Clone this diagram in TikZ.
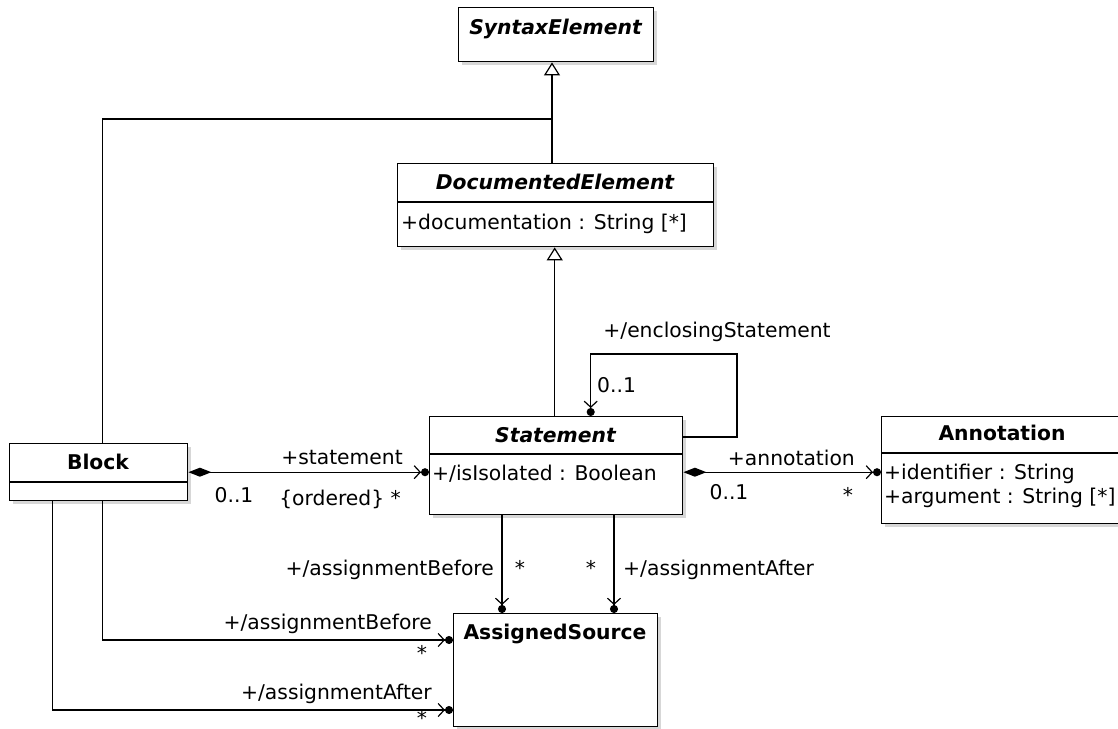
\documentclass[tikz,border=0pt]{standalone}
\usepackage{fontspec}
\setmainfont{DejaVu Sans}
\usetikzlibrary{arrows.meta,shadows}
\newcommand{\umlsize}{\fontsize{20.3}{24}\selectfont}
\tikzset{
  classbox/.style={draw, line width=1.4pt, fill=white, anchor=north west, inner sep=0pt,
    drop shadow={shadow xshift=3pt, shadow yshift=-3pt, fill=black!35, opacity=.45}},
  lbl/.style={inner sep=0pt, text height=16pt, text depth=2pt, font=\umlsize},
  ctitle/.style={lbl, font=\umlsize\bfseries},
  atitle/.style={lbl, font=\umlsize\bfseries\itshape},
  attr/.style={lbl, anchor=west},
  link/.style={line width=1.2pt},
  isa/.style={link, -{Triangle[open, length=13pt, width=16pt]}},
  owned/.style={link, -{Straight Barb[length=6pt, width=13pt] Circle[length=8pt]}},
  comp/.style={link, {Diamond[length=23pt, width=9pt]}-{Straight Barb[length=6pt, width=13pt] Circle[length=8pt]}}
}
\begin{document}
\begin{tikzpicture}[x=1pt, y=-1pt]
\useasboundingbox (0,0) rectangle (1118,728);
\node[classbox, minimum width=195pt, minimum height=54pt] (syn) at (458,7) {};
\node[atitle] (synT) at (555.5,27) {SyntaxElement};
\node[classbox, minimum width=316pt, minimum height=83pt] (doc) at (397,163) {};
\draw[link] (doc.west |- 0,202) -- (doc.east |- 0,202);
\node[atitle] (docT) at (555,182) {DocumentedElement};
\node[attr] (docA) at (401,222) {+documentation : String [*]};
\node[classbox, minimum width=253pt, minimum height=98pt] (stmt) at (429,416) {};
\draw[link] (stmt.west |- 0,454) -- (stmt.east |- 0,454);
\node[atitle] (stmtT) at (555.5,435) {Statement};
\node[attr] (stmtA) at (432,473) {+/isIsolated : Boolean};
\node[classbox, minimum width=178pt, minimum height=57pt] (blk) at (9,443) {};
\draw[link] (blk.west |- 0,482) -- (blk.east |- 0,482);
\node[ctitle] (blkT) at (98,462) {Block};
\node[classbox, minimum width=242pt, minimum height=107pt] (ann) at (881,416) {};
\draw[link] (ann.west |- 0,453) -- (ann.east |- 0,453);
\node[ctitle] (annT) at (1002,433) {Annotation};
\node[attr] (annA) at (884,472) {+identifier : String};
\node[attr] (annB) at (884,496) {+argument : String [*]};
\node[classbox, minimum width=204pt, minimum height=113pt] (asg) at (453,613) {};
\node[ctitle] (asgT) at (555,632) {AssignedSource};

\coordinate (join) at (552,119);
\draw[isa] (doc.north -| join) -- (syn.south -| join);
\draw[link] ([xshift=4pt]blk.north) |- (join);
\draw[isa] ([xshift=-1.5pt]stmt.north) -- ([xshift=-1.5pt]stmt.north |- doc.south);

\coordinate (loop) at (737,354);
\draw[owned] (stmt.east |- 0,437) -| (loop) -| ([xshift=34.5pt]stmt.north);
\node[lbl] (enclL) at (717,330) {+/enclosingStatement};
\node[lbl, anchor=west] (enclM) at (597,385) {0..1};

\draw[comp] (blk.east) -- (blk.east -| stmt.west);
\node[lbl, anchor=east] (stmtL) at (403,457) {+statement};
\node[lbl] (stmtM1) at (234,495) {0..1};
\node[lbl, anchor=east] (stmtM2) at (401,498) {\{ordered\} *};

\draw[comp] (stmt.east |- blk.east) -- (ann.west |- blk.east);
\node[lbl, anchor=east] (annL) at (855,458) {+annotation};
\node[lbl] (annM1) at (729,492) {0..1};
\node[lbl] (annM2) at (848,495) {*};

\draw[owned] (stmt.south -| 502,0) -- (asg.north -| 502,0);
\draw[owned] (stmt.south -| 614,0) -- (asg.north -| 614,0);
\node[lbl, anchor=east] (befL) at (494,568) {+/assignmentBefore};
\node[lbl] (befM) at (520,568) {*};
\node[lbl] (aftM) at (591,568) {*};
\node[lbl, anchor=west] (aftL) at (623,568) {+/assignmentAfter};

\draw[owned] ([xshift=4pt]blk.south) |- (asg.west |- 0,640);
\draw[owned] ([xshift=-46pt]blk.south) |- (asg.west |- 0,710);
\node[lbl, anchor=east] (blkBefL) at (432,622) {+/assignmentBefore};
\node[lbl] (blkBefM) at (422,653) {*};
\node[lbl, anchor=east] (blkAftL) at (432,692) {+/assignmentAfter};
\node[lbl] (blkAftM) at (422,718) {*};
\end{tikzpicture}
\end{document}
